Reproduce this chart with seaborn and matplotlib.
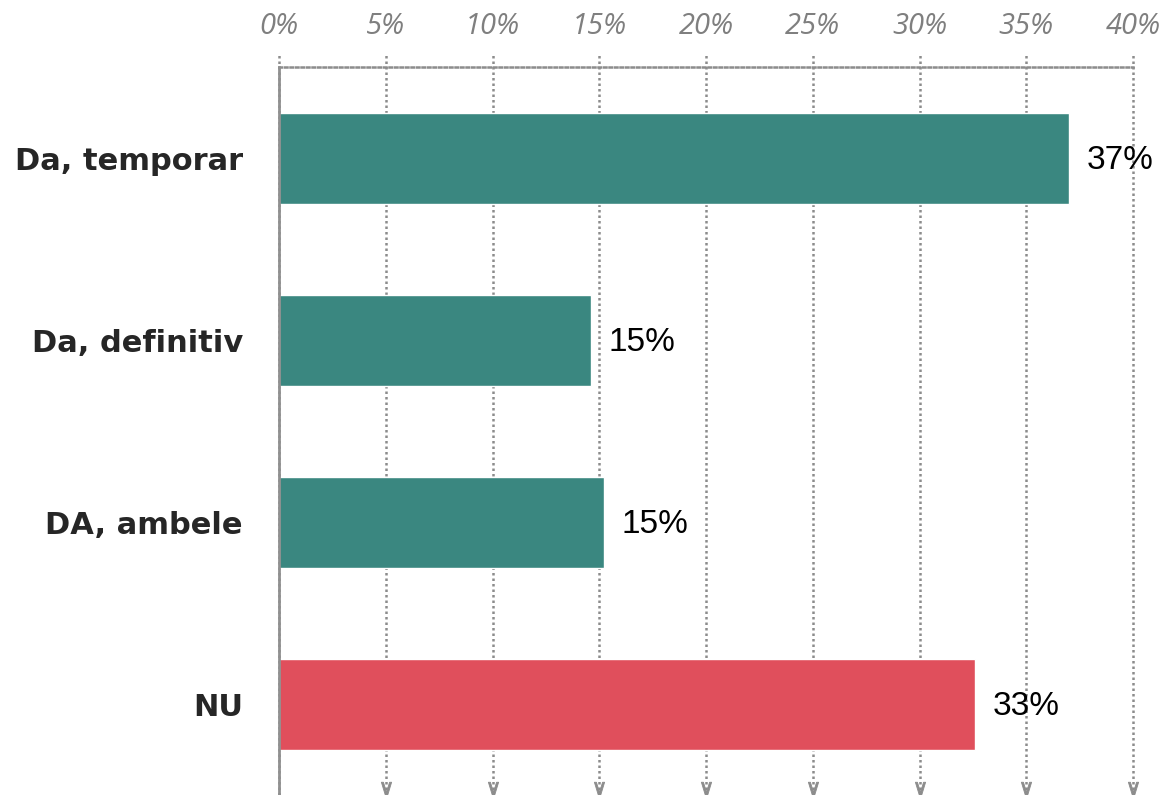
import pandas as pd
import seaborn as sns
import matplotlib.pyplot as plt
from matplotlib.ticker import FixedLocator

# answers and share of respondents (%)
categories = ['Da, temporar', 'Da, definitiv', 'DA, ambele', 'NU']
values = [37.0, 14.6, 15.2, 32.6]
value_labels = ['37%', '15%', '15%', '33%']
bar_colors = ['#3a8780', '#3a8780', '#3a8780', '#e04f5c']
x_ticks = [0, 5, 10, 15, 20, 25, 30, 35, 40]
x_tick_labels = ['0%', '5%', '10%', '15%', '20%', '25%', '30%', '35%', '40%']

data = pd.DataFrame({'answer': categories, 'share': values})

sns.set_style('white')
fig = plt.figure(figsize=(11.66, 7.95), dpi=100)
ax = fig.add_axes([279 / 1166, 0.0, (1133 - 279) / 1166, 1 - 67 / 795])

sns.barplot(
    data=data,
    x='share',
    y='answer',
    hue='answer',
    palette=bar_colors,
    saturation=1,
    orient='h',
    width=0.5,
    legend=False,
    ax=ax,
    zorder=3,
)

ax.set_xlim(0, 40)
ax.set_ylim(len(categories) - 0.5, -0.5)

# x axis on top, italic grey
ax.xaxis.tick_top()
ax.set_xticks(x_ticks)
ax.set_xticklabels(x_tick_labels, fontsize=21, style='italic', color='#7f7f7f',
                   family=['Open Sans', 'DejaVu Sans'])
ax.tick_params(axis='x', length=0, pad=19)

# category labels
ax.set_yticks(range(len(categories)))
ax.set_yticklabels(categories, fontsize=22, weight='bold', color='#262626')
ax.tick_params(axis='y', which='major', length=0, pad=26)
ax.yaxis.set_minor_locator(FixedLocator([-0.5, 0.5, 1.5, 2.5]))
ax.tick_params(axis='y', which='minor', length=6.5, width=1.5, color='#909090', direction='out')

ax.set_xlabel('')
ax.set_ylabel('')

# dotted gridlines, poking above the top edge, arrow at the bottom
for xv in x_ticks:
    ax.axvline(xv, ymin=0, ymax=1.016, color='#8c8c8c', lw=1.8, ls=(0, (1, 1.2)),
               clip_on=False, zorder=1)
    if xv > 0:
        ax.plot(xv, 0.009, marker=r'$\vee$', ms=9, mew=0.6, color='#8c8c8c',
                transform=ax.get_xaxis_transform(), clip_on=False, zorder=2)

for side in ['right', 'bottom']:
    ax.spines[side].set_visible(False)
ax.spines['top'].set_linestyle((0, (1, 1.2)))
ax.spines['top'].set_color('#8c8c8c')
ax.spines['top'].set_linewidth(1.8)
ax.spines['left'].set_color('#909090')
ax.spines['left'].set_linewidth(2)
ax.spines['left'].set_zorder(4)

# value labels at the end of each bar
for bar in ax.patches:
    yc = bar.get_y() + bar.get_height() / 2
    idx = int(round(yc))
    ax.annotate(value_labels[idx], (bar.get_width(), yc), xytext=(13, -2),
                textcoords='offset points', va='center', ha='left', fontsize=24,
                color='black', family=['Liberation Sans', 'DejaVu Sans'])

plt.savefig('out.png', dpi=100)
